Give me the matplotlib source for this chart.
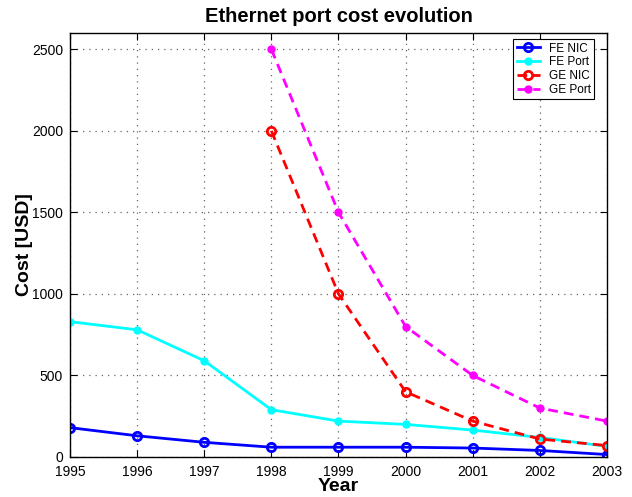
import matplotlib
matplotlib.use("Agg")
import matplotlib.pyplot as plt

plt.rcParams['font.family'] = ['Liberation Sans', 'DejaVu Sans']

years = [1995, 1996, 1997, 1998, 1999, 2000, 2001, 2002, 2003]
ge_years = [1998, 1999, 2000, 2001, 2002, 2003]
fe_nic = [180, 130, 90, 60, 60, 60, 55, 40, 15]
fe_port = [830, 780, 590, 290, 220, 200, 165, 120, 65]
ge_nic = [2000, 1000, 400, 220, 110, 70]
ge_port = [2500, 1500, 800, 500, 300, 220]

fig = plt.figure(figsize=(6.32, 4.97), dpi=100)
ax = fig.add_axes([0.1108, 0.0805, 0.8496, 0.853])

dash = (0, (3.5, 2.2))
ax.plot(years, fe_nic, '-o', color='blue', lw=2, ms=6, mfc='none', mew=2, label='FE NIC')
ax.plot(years, fe_port, '-o', color='cyan', lw=2, ms=5, label='FE Port')
ax.plot(ge_years, ge_nic, marker='o', ls=dash, color='red', lw=2, ms=6, mfc='none', mew=2, label='GE NIC')
ax.plot(ge_years, ge_port, marker='o', ls=dash, color='magenta', lw=2, ms=5, label='GE Port')

ax.set_xlim(1995, 2003)
ax.set_ylim(0, 2600)
ax.set_xticks(years)
ax.set_yticks([0, 500, 1000, 1500, 2000, 2500])
ax.grid(True, linestyle=(0, (1, 4)), color='#666666', linewidth=0.9)
ax.tick_params(direction='in', top=True, right=True, labelsize=10, length=5)
ax.tick_params(axis='x', pad=6)
ax.tick_params(axis='y', pad=5)
for s in ax.spines.values():
    s.set_linewidth(1.0)

ax.set_title('Ethernet port cost evolution', fontsize=14.5, fontweight='bold', pad=8)
ax.set_xlabel('Year', fontsize=14, fontweight='bold', labelpad=-1)
ax.set_ylabel('Cost [USD]', fontsize=14, fontweight='bold', labelpad=-1)

leg = ax.legend(loc='upper right', bbox_to_anchor=(0.976, 0.986), borderaxespad=0,
                fontsize=8.5, fancybox=False, framealpha=1,
                edgecolor='black', handlelength=2.0, handletextpad=0.7, borderpad=0.3,
                labelspacing=0.15)
leg.get_frame().set_linewidth(0.8)

fig.savefig('out.png', dpi=100)
